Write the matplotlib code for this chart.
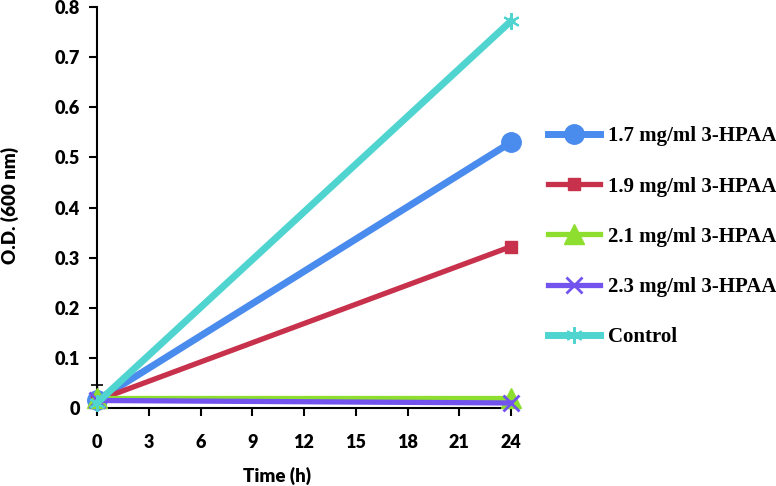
import matplotlib.pyplot as plt
from matplotlib.ticker import FuncFormatter

# data
time_h = [0, 24]
od_17 = [0.015, 0.53]
od_19 = [0.015, 0.322]
od_21 = [0.02, 0.02]
od_23 = [0.015, 0.01]
od_ctrl = [0.01, 0.772]
ctrl_err_up = [0.035, 0.0]

labels = ["1.7 mg/ml 3-HPAA", "1.9 mg/ml 3-HPAA", "2.1 mg/ml 3-HPAA",
          "2.3 mg/ml 3-HPAA", "Control"]
x_ticks = [0, 3, 6, 9, 12, 15, 18, 21, 24]
y_ticks = [0, 0.1, 0.2, 0.3, 0.4, 0.5, 0.6, 0.7, 0.8]

colors = ["#4a8bee", "#c8314b", "#8ede30", "#7253ee", "#4fd4d0"]

fig = plt.figure(figsize=(7.76, 4.86), dpi=100)
ax = fig.add_axes([97/776, 1 - 408/486, 414/776, 401/486])

ax.plot(time_h, od_17, color=colors[0], lw=5, marker="o", ms=14,
        label=labels[0], clip_on=False, zorder=3)
ax.plot(time_h, od_19, color=colors[1], lw=3.8, marker="s", ms=8,
        label=labels[1], clip_on=False, zorder=3)
ax.plot(time_h, od_21, color=colors[2], lw=3.8, marker="^", ms=14,
        label=labels[2], clip_on=False, zorder=3)
ax.plot(time_h, od_23, color=colors[3], lw=3.8, marker="x", ms=11, mew=2,
        label=labels[3], clip_on=False, zorder=3)
ax.plot(time_h, od_ctrl, color=colors[4], lw=5, marker=(6, 2, 0), ms=12, mew=1.5,
        label=labels[4], clip_on=False, zorder=3)
ax.errorbar(time_h[:1], od_ctrl[:1], yerr=[[0], ctrl_err_up[:1]], fmt="none",
            ecolor="black", elinewidth=1, capsize=4, capthick=1.2, zorder=2,
            clip_on=False)

ax.set_xlim(0, 24)
ax.set_ylim(0, 0.8)
ax.set_xticks(x_ticks)
ax.set_yticks(y_ticks)
ax.yaxis.set_major_formatter(FuncFormatter(lambda v, p: "0" if v == 0 else f"{v:.1f}"))

for s in ["top", "right"]:
    ax.spines[s].set_visible(False)
for s in ["left", "bottom"]:
    ax.spines[s].set_linewidth(1.5)
    ax.spines[s].set_color("black")

tick_font = dict(family="Lato", weight="heavy", size=13)
ax.tick_params(direction="out", length=6, width=1.5, pad=6)
for t in ax.get_xticklabels() + ax.get_yticklabels():
    t.set_fontproperties(tick_font)
ax.tick_params(axis="x", pad=13)

fig.text(10/776, 1 - 206/486, "O.D. (600 nm)", rotation=90, ha="center", va="center",
         family="Lato", weight="heavy", size=13.5)
fig.text(277/776, 1 - 476/486, "Time (h)", ha="center", va="center",
         family="Lato", weight="heavy", size=13.5)

leg = fig.legend(loc="upper left", bbox_to_anchor=(540/776, 1 - 118/486),
                 frameon=False, handlelength=2.5, handletextpad=0.35,
                 labelspacing=1.45, borderaxespad=0,
                 prop=dict(family="Liberation Serif", weight="bold", size=15))

fig.savefig("out.png", dpi=100)
